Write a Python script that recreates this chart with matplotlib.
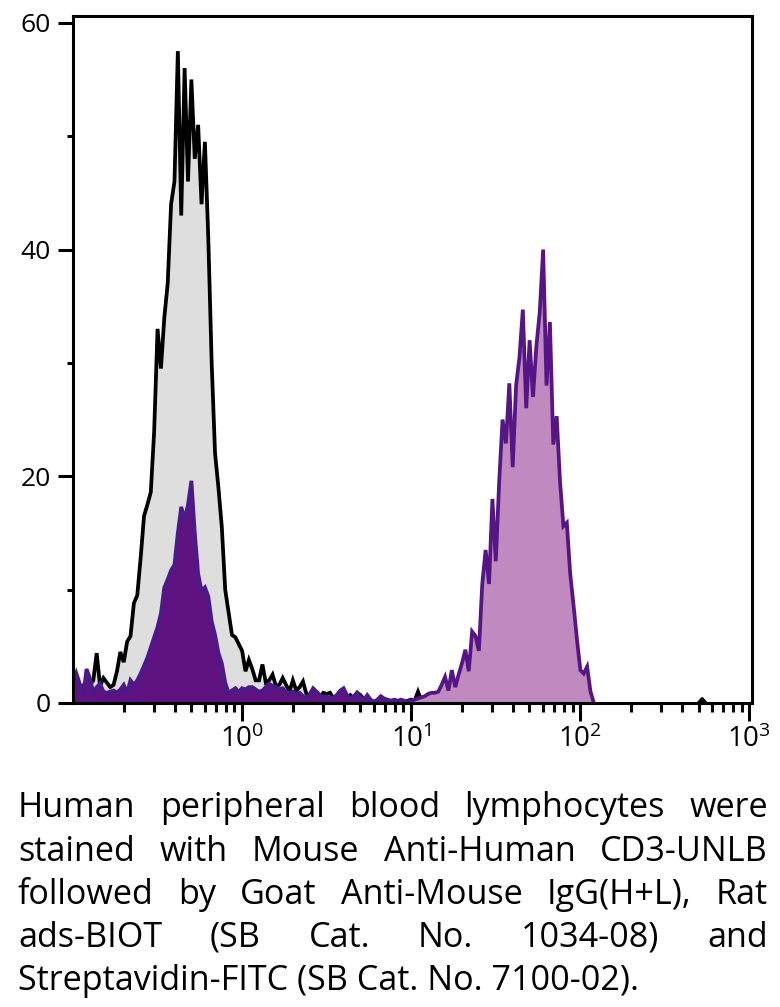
import numpy as np
import matplotlib
matplotlib.use("Agg")
import matplotlib.pyplot as plt
from matplotlib import font_manager
from matplotlib.ticker import FixedLocator, NullFormatter, FixedFormatter

# ---------------- data ----------------
bin_start_log10 = -1.0      # first bin centre, log10 units
bin_step_log10 = 0.02       # bin width, log10 units

control_counts = [
    0.8, 1.2, 0.6, 1.4, 0.9, 1.6, 2.0, 4.4, 1.5, 2.2,
    1.8, 1.4, 1.6, 2.8, 4.5, 3.6, 5.4, 5.9, 8.8, 9.5,
    12.8, 16.5, 17.5, 18.6, 24.0, 33.0, 29.5, 34.0, 37.0, 44.0,
    46.0, 57.5, 43.0, 56.0, 46.0, 55.0, 48.0, 51.0, 44.0, 49.5,
    41.0, 30.0, 22.0, 19.0, 15.5, 10.0, 8.0, 6.0, 5.8, 5.2,
    4.6, 2.8, 3.8, 3.0, 2.0, 2.0, 3.4, 1.8, 2.0, 2.5,
    1.5, 1.6, 2.2, 1.6, 1.0, 2.0, 1.1, 1.4, 1.9, 0.8,
    0.6, 0.9, 0.9, 0.5, 0.9, 0.8, 0.9, 0.4, 0.6, 1.0,
    0.8, 0.5, 0.7, 0.4, 0.9, 0.7, 0.3, 0.2, 0.2, 0.1,
    0.2, 0.1, 0.2, 0.1, 0.2, 0.1, 0.1, 0.2, 0.1, 0.2,
    0.3, 0.2, 1.0, 0.2, 0.0,
]

stained_counts = [
    1.5, 2.6, 1.7, 0.6, 3.0, 2.2, 0.9, 1.4, 1.7, 1.0,
    0.9, 1.0, 1.1, 0.9, 1.2, 1.6, 0.9, 2.0, 1.6, 2.0,
    2.6, 3.3, 4.0, 4.9, 5.8, 6.7, 7.9, 10.2, 10.9, 11.7,
    12.2, 15.0, 17.3, 16.2, 17.5, 19.6, 15.0, 11.4, 9.9, 10.2,
    9.4, 7.2, 6.0, 4.4, 3.5, 1.8, 0.9, 1.1, 1.3, 1.0,
    1.3, 1.2, 1.4, 1.4, 1.2, 1.0, 1.1, 1.4, 1.7, 1.5,
    1.4, 1.2, 1.3, 1.0, 0.9, 1.0, 0.8, 0.9, 0.6, 0.4,
    0.8, 1.3, 1.0, 0.7, 0.5, 0.6, 0.4, 0.5, 0.7, 1.1,
    1.3, 0.7, 0.4, 0.6, 0.9, 0.5, 0.3, 0.7, 0.3, 0.1,
    0.3, 0.6, 0.4, 0.3, 0.2, 0.3, 0.2, 0.3, 0.2, 0.1,
    0.2, 0.3, 0.4, 0.5, 0.6, 0.8, 0.9, 0.9, 1.0, 1.6,
    2.3, 1.1, 2.9, 1.4, 2.5, 3.5, 4.7, 2.8, 6.3, 5.9,
    4.6, 10.5, 13.5, 10.5, 18.0, 12.5, 19.5, 25.0, 22.9, 28.2,
    20.8, 28.0, 30.5, 34.7, 26.0, 32.0, 27.0, 31.5, 34.5, 40.0,
    28.0, 33.6, 22.8, 25.3, 19.5, 15.6, 15.9, 11.4, 8.6, 5.6,
    2.9, 2.6, 3.2, 1.0, 0.0,
]
stained_split_bin = 100     # bins before this: negative population (dark fill)

# single stray control event far right
control_stray_log10 = [2.70, 2.72, 2.74]
control_stray_counts = [0.0, 0.35, 0.0]

y_major_ticks = [0, 20, 40, 60]
y_minor_ticks = [10, 30, 50]
x_major_ticks = [1, 10, 100, 1000]
x_tick_labels = [r"$\mathregular{10^{0}}$", r"$\mathregular{10^{1}}$",
                 r"$\mathregular{10^{2}}$", r"$\mathregular{10^{3}}$"]

caption_lines = [
    "Human peripheral blood lymphocytes were",
    "stained with Mouse Anti-Human CD3-UNLB",
    "followed by Goat Anti-Mouse IgG(H+L), Rat",
    "ads-BIOT (SB Cat. No. 1034-08) and",
    "Streptavidin-FITC (SB Cat. No. 7100-02).",
]

# ---------------- styling ----------------
def pick_font(*names):
    for n in names:
        try:
            font_manager.findfont(font_manager.FontProperties(family=n),
                                  fallback_to_default=False)
            return n
        except Exception:
            pass
    return "DejaVu Sans"

tick_font = pick_font("Open Sans", "Liberation Sans", "DejaVu Sans")
cap_font = pick_font("Open Sans", "DejaVu Sans")

plt.rcParams["font.family"] = [tick_font, "DejaVu Sans"]
plt.rcParams["mathtext.fontset"] = "custom"
plt.rcParams["mathtext.rm"] = tick_font

W, H = 780, 1007
DPI = 100
fig = plt.figure(figsize=(W / DPI, H / DPI), dpi=DPI)

ax_left, ax_right, ax_top, ax_bot = 73, 752, 16, 703
ax = fig.add_axes([ax_left / W, 1 - ax_bot / H,
                   (ax_right - ax_left) / W, (ax_bot - ax_top) / H])

GRAY = "#dedede"
DARK_FILL = "#5e1380"
DARK_LINE = "#4b1a8a"
LIGHT_FILL = "#c08ac0"
LIGHT_LINE = "#561585"
LW = 2.7

xc = 10 ** (bin_start_log10 + bin_step_log10 * np.arange(len(control_counts)))
xs = 10 ** (bin_start_log10 + bin_step_log10 * np.arange(len(stained_counts)))
yc = np.array(control_counts)
ys = np.array(stained_counts)

ax.fill_between(xc, yc, 0, color=GRAY, lw=0, zorder=1)
ax.plot(xc, yc, color="black", lw=LW, zorder=2, solid_joinstyle="miter")
ax.plot(10 ** np.array(control_stray_log10), control_stray_counts,
        color="black", lw=LW, zorder=2)

sb = stained_split_bin
ax.fill_between(xs[:sb + 1], ys[:sb + 1], 0, color=DARK_FILL, lw=0, zorder=3)
ax.fill_between(xs[sb:], ys[sb:], 0, color=LIGHT_FILL, lw=0, zorder=3)
ax.plot(xs[:sb + 1], ys[:sb + 1], color=DARK_LINE, lw=LW, zorder=4,
        solid_joinstyle="miter")
ax.plot(xs[sb:], ys[sb:], color=LIGHT_LINE, lw=LW, zorder=4,
        solid_joinstyle="miter")

ax.set_xscale("log")
ax.set_xlim(10 ** -1.0, 10 ** 3.015)
ax.set_ylim(0, 60.6)

ax.yaxis.set_major_locator(FixedLocator(y_major_ticks))
ax.yaxis.set_minor_locator(FixedLocator(y_minor_ticks))
ax.yaxis.set_minor_formatter(NullFormatter())

minor_x = [m * 10 ** e for e in (-1, 0, 1, 2) for m in range(2, 10)]
ax.xaxis.set_major_locator(FixedLocator(x_major_ticks))
ax.xaxis.set_major_formatter(FixedFormatter(x_tick_labels))
ax.xaxis.set_minor_locator(FixedLocator(minor_x))
ax.xaxis.set_minor_formatter(NullFormatter())

for s in ax.spines.values():
    s.set_linewidth(2.2)
    s.set_zorder(6)

ax.tick_params(axis="y", which="major", length=10.8, width=2.2, pad=5.0,
               labelsize=19, direction="out")
ax.tick_params(axis="y", which="minor", length=4.6, width=2.2, direction="out")
ax.tick_params(axis="x", which="major", length=13, width=2.2, pad=3.5,
               labelsize=20, direction="out")
ax.tick_params(axis="x", which="minor", length=6.5, width=2.2, direction="out")

# ---------------- caption (justified) ----------------
cap_left, cap_right = 18, 768
baselines = [817, 861, 904, 947, 990]
cap_size = 24.6

fig.canvas.draw()
renderer = fig.canvas.get_renderer()

def text_width(s, size):
    t = fig.text(0, 0, s, family=[cap_font, "DejaVu Sans"], fontsize=size)
    w = t.get_window_extent(renderer).width
    t.remove()
    return w

for i, line in enumerate(caption_lines):
    yb = 1 - baselines[i] / H
    if i == len(caption_lines) - 1:
        fig.text(cap_left / W, yb, line, family=[cap_font, "DejaVu Sans"],
                 fontsize=cap_size, ha="left", va="baseline")
        continue
    words = line.split(" ")
    widths = [text_width(w_, cap_size) for w_ in words]
    gap = (cap_right - cap_left - sum(widths)) / (len(words) - 1)
    x = cap_left
    for w_, wd in zip(words, widths):
        fig.text(x / W, yb, w_, family=[cap_font, "DejaVu Sans"],
                 fontsize=cap_size, ha="left", va="baseline")
        x += wd + gap

fig.savefig("out.png", dpi=DPI)
